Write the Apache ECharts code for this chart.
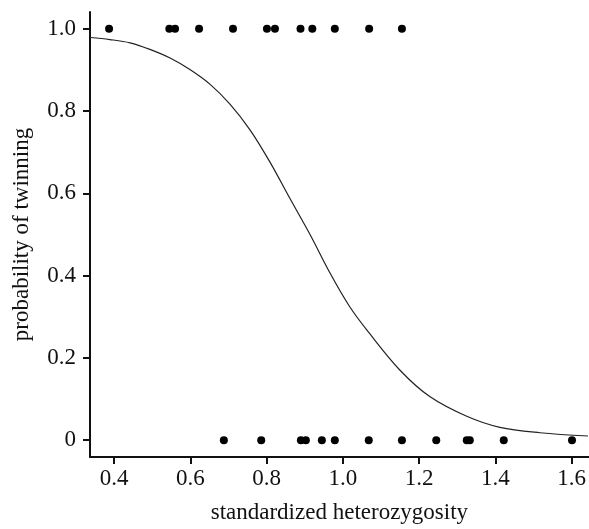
<!DOCTYPE html>
<html>
<head>
<meta charset="utf-8">
<script src="https://cdn.jsdelivr.net/npm/echarts@6/dist/echarts.min.js"></script>
<style>
html,body{margin:0;padding:0;background:#fff;}
#chart{width:589px;height:529px;}
</style>
</head>
<body>
<div id="chart"></div>
<script>
// Observations with twinning (probability = 1)
var twinX = [0.387, 0.545, 0.560, 0.623, 0.712, 0.801, 0.822, 0.889, 0.920, 0.979, 1.069, 1.155];
// Observations without twinning (probability = 0)
var singleX = [0.688, 0.786, 0.890, 0.903, 0.945, 0.979, 1.068, 1.155, 1.245, 1.325, 1.333, 1.422, 1.601];
// Fitted curve
var curveX = [0.337, 0.389, 0.442, 0.494, 0.547, 0.599, 0.652, 0.704, 0.757, 0.809, 0.861, 0.914, 0.966, 1.019, 1.067, 1.150, 1.228, 1.325, 1.412, 1.517, 1.643];
var curveY = [0.979, 0.974, 0.966, 0.950, 0.929, 0.901, 0.865, 0.817, 0.754, 0.676, 0.588, 0.500, 0.407, 0.323, 0.263, 0.170, 0.106, 0.058, 0.031, 0.018, 0.010];
var xTicks = [0.4, 0.6, 0.8, 1.0, 1.2, 1.4, 1.6];
var yTicks = [0, 0.2, 0.4, 0.6, 0.8, 1.0];

var font = 'Liberation Serif';
var chart = echarts.init(document.getElementById('chart'), null, {renderer: 'canvas'});
chart.setOption({
  animation: false,
  backgroundColor: '#fff',
  grid: {left: 90, right: 0, top: 12, bottom: 68},
  xAxis: {
    type: 'value', min: 0.337, max: 1.645,
    name: 'standardized heterozygosity', nameLocation: 'middle', nameGap: 44,
    nameTextStyle: {fontFamily: font, fontSize: 23, color: '#111'},
    axisLine: {show: true, onZero: false, lineStyle: {color: '#111', width: 2}},
    axisTick: {show: true, customValues: xTicks, length: 7, lineStyle: {color: '#111', width: 2}},
    axisLabel: {customValues: xTicks, margin: 10, fontFamily: font, fontSize: 23, color: '#111',
      formatter: function (v) { return v.toFixed(1); }},
    splitLine: {show: false}
  },
  yAxis: {
    type: 'value', min: -0.041, max: 1.041,
    name: 'probability of twinning', nameLocation: 'middle', nameGap: 57, nameRotate: 90,
    nameTextStyle: {fontFamily: font, fontSize: 23, color: '#111'},
    axisLine: {show: true, onZero: false, lineStyle: {color: '#111', width: 2}},
    axisTick: {show: true, customValues: yTicks, length: 7, lineStyle: {color: '#111', width: 2}},
    axisLabel: {customValues: yTicks, margin: 14, fontFamily: font, fontSize: 23, color: '#111',
      formatter: function (v) { return v === 0 ? '0' : v.toFixed(1); }},
    splitLine: {show: false}
  },
  series: [
    {
      type: 'line', smooth: 0.35, showSymbol: false, symbol: 'none',
      data: curveX.map(function (x, i) { return [x, curveY[i]]; }),
      lineStyle: {color: '#222', width: 1.2}, z: 1
    },
    {
      type: 'scatter', symbolSize: 8,
      data: twinX.map(function (x) { return [x, 1]; }),
      itemStyle: {color: '#000', opacity: 1}, z: 3
    },
    {
      type: 'scatter', symbolSize: 8,
      data: singleX.map(function (x) { return [x, 0]; }),
      itemStyle: {color: '#000', opacity: 1}, z: 3
    }
  ]
});
</script>
</body>
</html>
